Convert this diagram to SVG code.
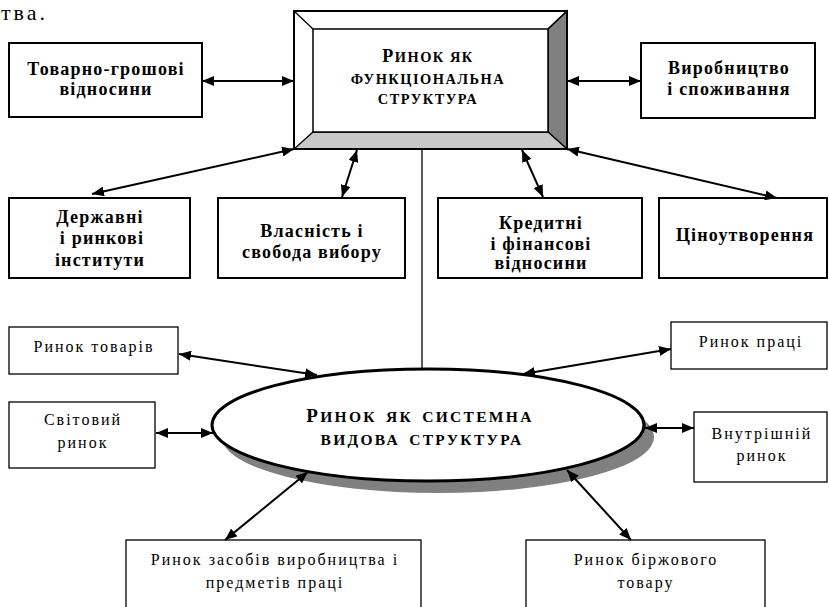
<svg xmlns="http://www.w3.org/2000/svg" width="829" height="607" viewBox="0 0 829 607">
<style>
.bx{fill:#fff;stroke:#000;stroke-width:2}
.bx2{fill:#fff;stroke:#000;stroke-width:1.3}
.t{font-family:"Liberation Serif","Times New Roman",serif;text-anchor:middle;fill:#000}
.b{font-weight:bold;font-size:18px;letter-spacing:1.2px}
.r{font-size:16px;letter-spacing:2px}
.sc{font-weight:bold;font-size:14.4px;letter-spacing:1.5px}
.sc2{font-weight:bold;font-size:15.5px;letter-spacing:2.3px;word-spacing:3px}
.big{font-size:18px}
.big2{font-size:19px}
.conn{stroke:#000;stroke-width:2;fill:none;marker-start:url(#ah);marker-end:url(#ah)}
.line{stroke:#000;stroke-width:1.3;fill:none}
</style>
<defs>
<marker id="ah" viewBox="0 0 12 10" refX="12" refY="5" markerWidth="12" markerHeight="10" markerUnits="userSpaceOnUse" orient="auto-start-reverse">
<path d="M0,0 L12,5 L0,10 z" fill="#000"/>
</marker>
</defs>
<rect width="829" height="607" fill="#fff"/>
<text x="1" y="20" font-family="Liberation Serif,Times New Roman,serif" font-size="22" letter-spacing="3">тва.</text>

<g id="func">
<rect x="294" y="11" width="273" height="138" fill="#fff" stroke="#000" stroke-width="2"/>
<polygon points="548,29 567,11 567,149 548,132" fill="#808080" stroke="#000" stroke-width="1.3"/>
<polygon points="313,132 548,132 567,149 294,149" fill="#c8c8c8" stroke="#000" stroke-width="1.3"/>
<line class="line" x1="294" y1="11" x2="313" y2="29"/>
<line class="line" x1="567" y1="11" x2="548" y2="29"/>
<rect x="313" y="29" width="235" height="103" fill="#fff" stroke="#000" stroke-width="1.5"/>
<rect x="294" y="11" width="273" height="138" fill="none" stroke="#000" stroke-width="2"/>
<text class="t sc" x="428" y="62"><tspan class="big">Р</tspan>ИНОК ЯК</text>
<text class="t sc" x="428" y="84">ФУНКЦІОНАЛЬНА</text>
<text class="t sc" x="428" y="104">СТРУКТУРА</text>
</g>

<g id="tovarno">
<rect class="bx" x="9" y="43" width="193" height="74"/>
<text class="t b" x="106" y="75">Товарно-грошові</text>
<text class="t b" x="106" y="95">відносини</text>
</g>
<g id="vyrob">
<rect class="bx" x="641" y="43" width="174" height="75"/>
<text class="t b" x="729" y="74">Виробництво</text>
<text class="t b" x="729" y="95">і споживання</text>
</g>
<g id="derzh">
<rect class="bx" x="9" y="198" width="181" height="80"/>
<text class="t b" x="100" y="223">Державні</text>
<text class="t b" x="102" y="244">і ринкові</text>
<text class="t b" x="100" y="266">інститути</text>
</g>
<g id="vlasn">
<rect class="bx" x="218" y="198" width="187" height="80"/>
<text class="t b" x="312" y="237">Власність і</text>
<text class="t b" x="312" y="258">свобода вибору</text>
</g>
<g id="kredyt">
<rect class="bx" x="438" y="198" width="204" height="80"/>
<text class="t b" x="541" y="229">Кредитні</text>
<text class="t b" x="541" y="250">і фінансові</text>
<text class="t b" x="541" y="269">відносини</text>
</g>
<g id="tsino">
<rect class="bx" x="659" y="198" width="168" height="80"/>
<text class="t b" x="745" y="241">Ціноутворення</text>
</g>

<g id="system">
<ellipse cx="438" cy="437" rx="216" ry="56" fill="#808080"/>
<ellipse cx="428" cy="425" rx="216" ry="56" fill="#fff" stroke="#000" stroke-width="3"/>
<text class="t sc2" x="420" y="422"><tspan class="big2">Р</tspan>ИНОК ЯК СИСТЕМНА</text>
<text class="t sc2" x="422" y="445">ВИДОВА СТРУКТУРА</text>
</g>

<g id="tovariv">
<rect class="bx2" x="9" y="327" width="169" height="47"/>
<text class="t r" x="94" y="352">Ринок товарів</text>
</g>
<g id="svitovyi">
<rect class="bx2" x="9" y="402" width="146" height="66"/>
<text class="t r" x="83" y="425">Світовий</text>
<text class="t r" x="83" y="448">ринок</text>
</g>
<g id="pratsi">
<rect class="bx2" x="671" y="322" width="156" height="47"/>
<text class="t r" x="751" y="347">Ринок праці</text>
</g>
<g id="vnutr">
<rect class="bx2" x="694" y="412" width="133" height="70"/>
<text class="t r" x="762" y="439">Внутрішній</text>
<text class="t r" x="762" y="461">ринок</text>
</g>
<g id="zasobiv">
<rect class="bx2" x="126" y="540" width="295" height="80"/>
<text class="t r" x="275" y="565">Ринок засобів виробництва і</text>
<text class="t r" x="275" y="588">предметів праці</text>
</g>
<g id="birzh">
<rect class="bx2" x="526" y="540" width="239" height="80"/>
<text class="t r" x="646" y="565">Ринок біржового</text>
<text class="t r" x="646" y="588">товару</text>
</g>

<g id="connectors">
<line class="conn" x1="202" y1="81" x2="294" y2="81"/>
<line class="conn" x1="567" y1="81" x2="641" y2="81"/>
<line class="conn" x1="294" y1="149" x2="92" y2="194"/>
<line class="conn" x1="357" y1="150" x2="342" y2="197"/>
<line class="conn" x1="522" y1="150" x2="543" y2="197"/>
<line class="conn" x1="567" y1="149" x2="777" y2="198"/>
<line class="line" x1="422" y1="149" x2="422" y2="369"/>
<line class="conn" x1="179" y1="354" x2="317" y2="375"/>
<line class="conn" x1="156" y1="433" x2="213" y2="433"/>
<line class="conn" x1="523" y1="374" x2="671" y2="349"/>
<line class="conn" x1="645" y1="428" x2="694" y2="428"/>
<line class="conn" x1="308" y1="472" x2="225" y2="540"/>
<line class="conn" x1="567" y1="470" x2="631" y2="540"/>
</g>
</svg>
